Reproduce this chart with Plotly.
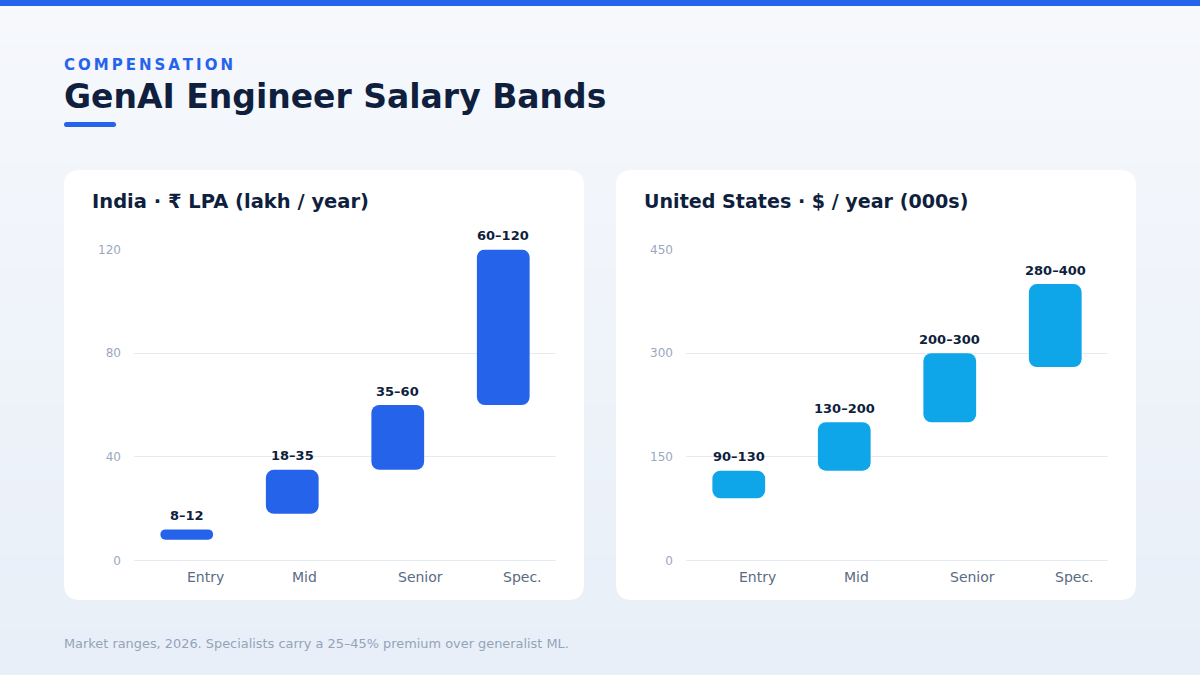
import plotly.graph_objects as go

# ---- data ----
levels = ["Entry", "Mid", "Senior", "Spec."]
india_low = [8, 18, 35, 60]
india_high = [12, 35, 60, 120]
us_low = [90, 130, 200, 280]
us_high = [130, 200, 300, 400]
india_ticks = [0, 40, 80, 120]
us_ticks = [0, 150, 300, 450]

W, H = 1200, 675
FONT = "DejaVu Sans"
NAVY = "#0f1f3d"
GRID = "#e6ebf2"


def px(x):
    return x / W


def py(y):
    return 1 - y / H


def rounded_rect(x0, y0, x1, y1, r):
    rx, ry = r / W, r / H
    X0, X1 = px(x0), px(x1)
    Y0, Y1 = py(y0), py(y1)  # Y0 top (bigger), Y1 bottom
    return (f"M {X0+rx},{Y0} L {X1-rx},{Y0} Q {X1},{Y0} {X1},{Y0-ry} "
            f"L {X1},{Y1+ry} Q {X1},{Y1} {X1-rx},{Y1} "
            f"L {X0+rx},{Y1} Q {X0},{Y1} {X0},{Y1+ry} "
            f"L {X0},{Y0-ry} Q {X0},{Y0} {X0+rx},{Y0} Z")


fig = go.Figure()
annotations = []


def add_panel(low, high, color, xa, ya):
    fig.add_trace(go.Bar(
        x=levels, y=[h - l for l, h in zip(low, high)], base=low,
        marker=dict(color=color, line=dict(width=0)),
        xaxis=xa, yaxis=ya, cliponaxis=False, hoverinfo="skip",
        showlegend=False))
    for lv, l, h in zip(levels, low, high):
        annotations.append(dict(
            text=f"{l}–{h}", x=lv, y=h, xref=xa, yref=ya, xanchor="center",
            yanchor="middle", yshift=14, showarrow=False,
            font=dict(family=FONT, size=13, color=NAVY, weight="bold")))


add_panel(india_low, india_high, "#2563eb", "x", "y")
add_panel(us_low, us_high, "#0ea5e9", "x2", "y2")

shapes = []
# background gradient strips
top_c = (0xf6, 0xf8, 0xfc)
bot_c = (0xe8, 0xef, 0xf8)
N = 45
for i in range(N):
    t = i / (N - 1)
    c = tuple(round(a + (b - a) * t) for a, b in zip(top_c, bot_c))
    y0 = i * H / N
    y1 = (i + 1) * H / N + 1
    shapes.append(dict(type="rect", xref="paper", yref="paper", x0=0, x1=1,
                       y0=py(min(y1, H)), y1=py(y0), line=dict(width=0),
                       fillcolor="rgb(%d,%d,%d)" % c, layer="below"))
# top bar
shapes.append(dict(type="rect", xref="paper", yref="paper", x0=0, x1=1,
                   y0=py(6), y1=1, line=dict(width=0), fillcolor="#2563eb",
                   layer="below"))
# accent underline
shapes.append(dict(type="path", xref="paper", yref="paper",
                   path=rounded_rect(64, 122, 116, 127, 2.5),
                   line=dict(width=0), fillcolor="#2563eb", layer="below"))
# cards
for x0 in (64, 616):
    shapes.append(dict(type="path", xref="paper", yref="paper",
                       path=rounded_rect(x0, 170, x0 + 520, 600, 16),
                       line=dict(width=0), fillcolor="#ffffff", layer="below"))

annotations += [
    dict(text="\u2009".join("COMPENSATION"), x=px(62), y=py(65), xref="paper",
         yref="paper", xanchor="left", yanchor="middle", showarrow=False,
         font=dict(family=FONT, size=15, color="#2563eb", weight="bold")),
    dict(text="GenAI Engineer Salary Bands", x=px(62), y=py(97), xref="paper",
         yref="paper", xanchor="left", yanchor="middle", showarrow=False,
         font=dict(family=FONT, size=33, color=NAVY, weight="bold")),
    dict(text="India · ₹ LPA (lakh / year)", x=px(90), y=py(201.5), xref="paper",
         yref="paper", xanchor="left", yanchor="middle", showarrow=False,
         font=dict(family=FONT, size=19.5, color=NAVY, weight="bold")),
    dict(text="United States · $ / year (000s)", x=px(642), y=py(201.5),
         xref="paper", yref="paper", xanchor="left", yanchor="middle",
         showarrow=False,
         font=dict(family=FONT, size=19.1, color=NAVY, weight="bold")),
    dict(text="Market ranges, 2026. Specialists carry a 25–45% premium over generalist ML.",
         x=px(62), y=py(643), xref="paper", yref="paper", xanchor="left",
         yanchor="middle", showarrow=False,
         font=dict(family=FONT, size=12.9, color="#94a3b8")),
]
for xr in ("x", "x2"):
    for lv in levels:
        annotations.append(dict(text=lv, x=lv, xref=xr, y=py(577), yref="paper",
                                xanchor="left", yanchor="middle", showarrow=False,
                                xshift=-2,
                                font=dict(family=FONT, size=14, color="#5b6b82")))

yax_common = dict(showgrid=True, gridcolor=GRID, gridwidth=1, zeroline=True,
                  zerolinecolor=GRID, zerolinewidth=1, showline=False,
                  ticks="", tickfont=dict(family=FONT, size=12, color="#9aa8bd"),
                  ticklabelstandoff=12, fixedrange=True)
xax_common = dict(showticklabels=False, showgrid=False, zeroline=False,
                  showline=False, ticks="", fixedrange=True,
                  categoryorder="array", categoryarray=levels)

fig.update_layout(
    width=W, height=H,
    margin=dict(l=0, r=0, t=0, b=0, pad=0, autoexpand=False),
    paper_bgcolor="#eef3f9", plot_bgcolor="rgba(0,0,0,0)",
    barmode="overlay", bargap=0.5, barcornerradius=8,
    showlegend=False, font=dict(family=FONT),
    xaxis=dict(domain=[px(134), px(556)], anchor="y", **xax_common),
    xaxis2=dict(domain=[px(686), px(1108)], anchor="y2", **xax_common),
    yaxis=dict(domain=[py(560.5), py(249.5)], anchor="x", range=[0, 120],
               tickvals=india_ticks, **yax_common),
    yaxis2=dict(domain=[py(560.5), py(249.5)], anchor="x2", range=[0, 450],
                tickvals=us_ticks, **yax_common),
    shapes=shapes, annotations=annotations,
)

fig.write_html("out.html")
